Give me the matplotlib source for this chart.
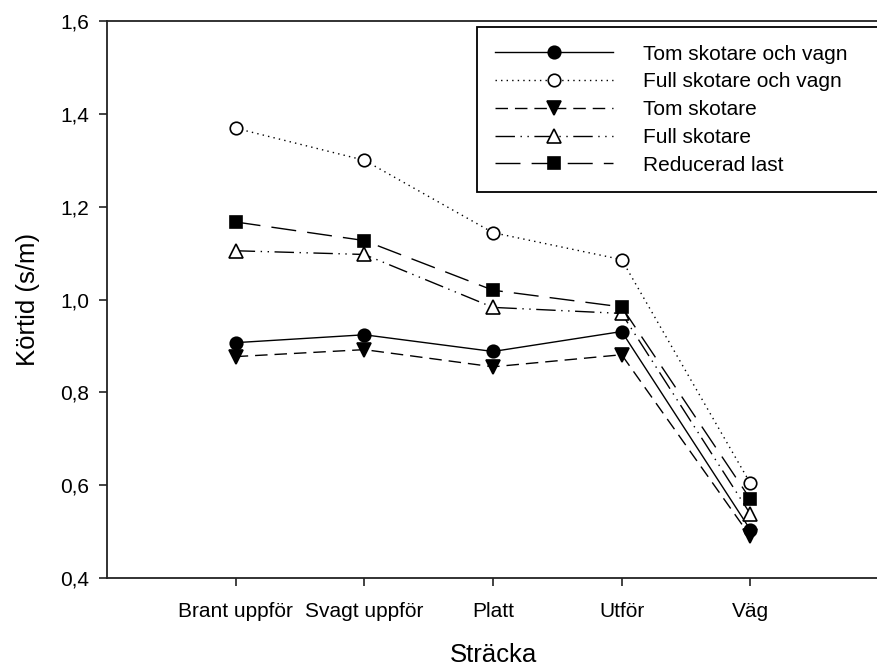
import matplotlib
matplotlib.use("Agg")
import matplotlib.pyplot as plt
from matplotlib.ticker import FixedLocator, FuncFormatter

plt.rcParams['font.family'] = ['Liberation Sans', 'DejaVu Sans']

categories = ["Brant uppför", "Svagt uppför", "Platt", "Utför", "Väg"]

tom_skotare_och_vagn = [0.907, 0.924, 0.888, 0.931, 0.504]
full_skotare_och_vagn = [1.369, 1.300, 1.144, 1.086, 0.604]
tom_skotare = [0.877, 0.892, 0.855, 0.881, 0.490]
full_skotare = [1.105, 1.097, 0.983, 0.970, 0.538]
reducerad_last = [1.167, 1.127, 1.020, 0.984, 0.570]

y_ticks = [0.4, 0.6, 0.8, 1.0, 1.2, 1.4, 1.6]

W, H = 877, 666
fig = plt.figure(figsize=(W / 100, H / 100), dpi=100)
ax = fig.add_axes([107 / W, 1 - 578 / H, 772 / W, (578 - 21) / H])

x = list(range(1, len(categories) + 1))
lw = 1.0
series = [
    ("Tom skotare och vagn", tom_skotare_och_vagn, '-', 'o', 'black', 9),
    ("Full skotare och vagn", full_skotare_och_vagn, (0, (1, 3)), 'o', 'white', 9),
    ("Tom skotare", tom_skotare, (0, (9, 5)), 'v', 'black', 10),
    ("Full skotare", full_skotare, (0, (14, 4, 1, 4, 1, 4)), '^', 'white', 10),
    ("Reducerad last", reducerad_last, (0, (18, 8)), 's', 'black', 9),
]
for label, vals, ls, mk, fc, ms in series:
    ax.plot(x, vals, linestyle=ls, color='black', linewidth=lw, marker=mk,
            markersize=ms, markerfacecolor=fc, markeredgecolor='black',
            markeredgewidth=1.2, label=label, clip_on=False)

ax.set_xlim(0, 6)
ax.set_ylim(0.4, 1.6)
ax.xaxis.set_major_locator(FixedLocator(x))
ax.set_xticklabels(categories)
ax.yaxis.set_major_locator(FixedLocator(y_ticks))
ax.yaxis.set_major_formatter(FuncFormatter(lambda v, p: f"{v:.1f}".replace('.', ',')))

ax.tick_params(axis='both', direction='out', length=6, width=1.2,
               labelsize=15, color='#222222')
ax.tick_params(axis='y', pad=7)
ax.tick_params(axis='x', pad=11)
for side in ('top', 'bottom', 'left', 'right'):
    ax.spines[side].set_linewidth(1.3)
    ax.spines[side].set_color('#222222')

ax.set_xlabel("Sträcka", fontsize=18.5, labelpad=16)
ax.set_ylabel("Körtid (s/m)", fontsize=18.5, labelpad=14)

leg_top, leg_bottom = 27, 190
leg = ax.legend(loc='upper left',
                bbox_to_anchor=(477 / W, 1 - leg_bottom / H, 440 / W,
                                (leg_bottom - leg_top) / H),
                bbox_transform=fig.transFigure, mode='expand',
                fontsize=15, frameon=True, fancybox=False, framealpha=1,
                handlelength=5.7, handletextpad=1.4, labelspacing=0.42,
                borderpad=0.85, borderaxespad=0)
leg.get_frame().set_edgecolor('black')
leg.get_frame().set_linewidth(1.3)

fig.savefig("out.png", dpi=100)
